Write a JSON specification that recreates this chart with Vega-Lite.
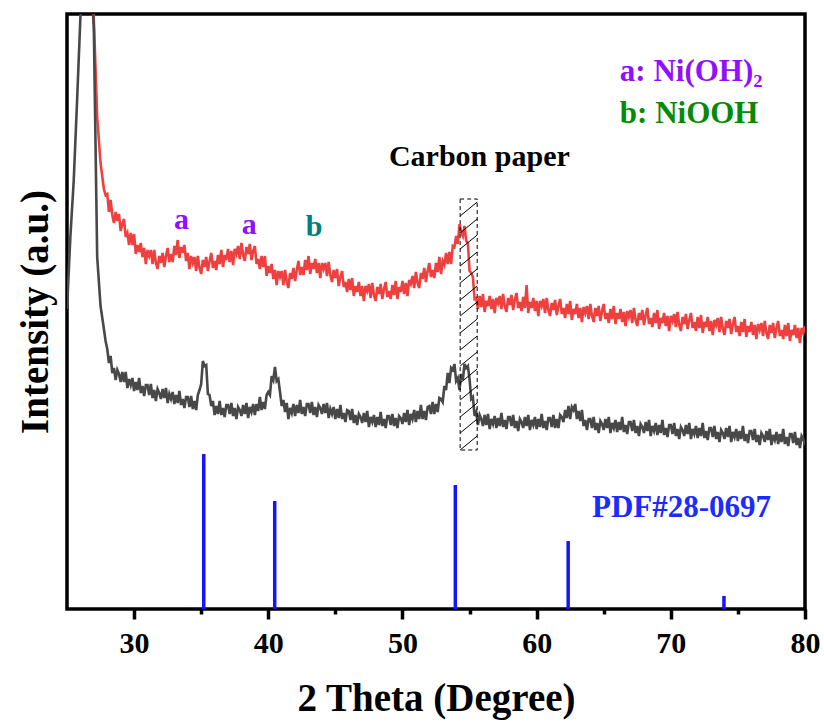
{
  "$schema": "https://vega.github.io/schema/vega-lite/v6.json",
  "autosize": "none",
  "width": 738,
  "height": 595,
  "padding": {"left": 67, "top": 14, "right": 19, "bottom": 118},
  "background": "white",
  "config": {"view": {"stroke": "black", "strokeWidth": 3.5}},
  "datasets": {
    "xrd": [
      {"x":25,"g":300},{"x":25.25,"g":372},{"x":25.5,"g":428},{"x":25.75,"g":508},{"x":26,"g":592},{"x":26.25,"g":662},
      {"x":26.5,"g":684,"r":800},{"x":26.75,"g":648,"r":700},{"x":27,"g":580,"r":590},{"x":27.25,"g":352,"r":492},{"x":27.5,"g":303,"r":446},{"x":27.75,"g":280,"r":420},{"x":27.875,"g":268,"r":414},
      {"x":28,"g":260,"r":415},{"x":28.125,"g":246,"r":397},{"x":28.25,"g":253,"r":409},{"x":28.375,"g":236,"r":394},{"x":28.5,"g":241,"r":386},{"x":28.625,"g":229,"r":397},{"x":28.75,"g":239,"r":388},{"x":28.875,"g":235,"r":395},
      {"x":29,"g":227,"r":378},{"x":29.125,"g":237,"r":385},{"x":29.25,"g":227,"r":390},{"x":29.375,"g":237,"r":372},{"x":29.5,"g":221,"r":376},{"x":29.625,"g":230,"r":364},{"x":29.75,"g":224,"r":376},{"x":29.875,"g":231,"r":364},
      {"x":30,"g":218,"r":375},{"x":30.125,"g":227,"r":355},{"x":30.25,"g":219,"r":364},{"x":30.375,"g":231,"r":357},{"x":30.5,"g":216,"r":366},{"x":30.625,"g":223,"r":352},{"x":30.75,"g":213,"r":361},{"x":30.875,"g":224,"r":345},
      {"x":31,"g":224,"r":359},{"x":31.125,"g":214,"r":353},{"x":31.25,"g":225,"r":359},{"x":31.375,"g":211,"r":345},{"x":31.5,"g":219,"r":359},{"x":31.625,"g":208,"r":346},{"x":31.75,"g":220,"r":340},{"x":31.875,"g":216,"r":353},
      {"x":32,"g":210,"r":346},{"x":32.125,"g":220,"r":356},{"x":32.25,"g":211,"r":342},{"x":32.375,"g":221,"r":353},{"x":32.5,"g":206,"r":361},{"x":32.625,"g":215,"r":347},{"x":32.75,"g":210,"r":355},{"x":32.875,"g":217,"r":347},
      {"x":33,"g":205,"r":363},{"x":33.125,"g":214,"r":354},{"x":33.25,"g":206,"r":369},{"x":33.375,"g":218,"r":351},{"x":33.5,"g":204,"r":362},{"x":33.625,"g":210,"r":356},{"x":33.75,"g":201,"r":364},{"x":33.875,"g":212,"r":348},
      {"x":34,"g":212,"r":356},{"x":34.125,"g":202,"r":340},{"x":34.25,"g":213,"r":353},{"x":34.375,"g":200,"r":346},{"x":34.5,"g":208,"r":352},{"x":34.625,"g":199,"r":338},{"x":34.75,"g":214,"r":353},{"x":34.875,"g":219,"r":341},
      {"x":35,"g":225,"r":335},{"x":35.125,"g":248,"r":349},{"x":35.25,"g":243,"r":342},{"x":35.375,"g":244,"r":352},{"x":35.5,"g":215,"r":338},{"x":35.625,"g":214,"r":348},{"x":35.75,"g":203,"r":356},{"x":35.875,"g":208,"r":341},
      {"x":36,"g":194,"r":348},{"x":36.125,"g":203,"r":339},{"x":36.25,"g":195,"r":354},{"x":36.375,"g":208,"r":345},{"x":36.5,"g":194,"r":359},{"x":36.625,"g":201,"r":342},{"x":36.75,"g":192,"r":354},{"x":36.875,"g":204,"r":349},
      {"x":37,"g":204,"r":360},{"x":37.125,"g":195,"r":347},{"x":37.25,"g":206,"r":358},{"x":37.375,"g":193,"r":344},{"x":37.5,"g":201,"r":360},{"x":37.625,"g":190,"r":355},{"x":37.75,"g":202,"r":363},{"x":37.875,"g":199,"r":350},
      {"x":38,"g":193,"r":366},{"x":38.125,"g":204,"r":354},{"x":38.25,"g":195,"r":348},{"x":38.375,"g":206,"r":362},{"x":38.5,"g":191,"r":355},{"x":38.625,"g":202,"r":365},{"x":38.75,"g":197,"r":349},{"x":38.875,"g":205,"r":358},
      {"x":39,"g":194,"r":363},{"x":39.125,"g":205,"r":345},{"x":39.25,"g":198,"r":350},{"x":39.375,"g":212,"r":340},{"x":39.5,"g":199,"r":353},{"x":39.625,"g":207,"r":342},{"x":39.75,"g":200,"r":353},{"x":39.875,"g":214,"r":333},
      {"x":40,"g":217,"r":343},{"x":40.125,"g":214,"r":336},{"x":40.25,"g":233,"r":345},{"x":40.375,"g":229,"r":330},{"x":40.5,"g":242,"r":339},{"x":40.625,"g":228,"r":324},{"x":40.75,"g":230,"r":338},{"x":40.875,"g":217,"r":332},
      {"x":41,"g":203,"r":338},{"x":41.125,"g":209,"r":324},{"x":41.25,"g":197,"r":339},{"x":41.375,"g":206,"r":327},{"x":41.5,"g":190,"r":321},{"x":41.625,"g":201,"r":336},{"x":41.75,"g":196,"r":330},{"x":41.875,"g":205,"r":341},
      {"x":42,"g":193,"r":328},{"x":42.125,"g":204,"r":339},{"x":42.25,"g":196,"r":348},{"x":42.375,"g":209,"r":334},{"x":42.5,"g":195,"r":342},{"x":42.625,"g":202,"r":334},{"x":42.75,"g":193,"r":349},{"x":42.875,"g":205,"r":339},
      {"x":43,"g":205,"r":353},{"x":43.125,"g":196,"r":335},{"x":43.25,"g":207,"r":346},{"x":43.375,"g":194,"r":340},{"x":43.5,"g":202,"r":350},{"x":43.625,"g":192,"r":336},{"x":43.75,"g":204,"r":346},{"x":43.875,"g":201,"r":331},
      {"x":44,"g":195,"r":346},{"x":44.125,"g":205,"r":340},{"x":44.25,"g":196,"r":346},{"x":44.375,"g":206,"r":333},{"x":44.5,"g":191,"r":347},{"x":44.625,"g":200,"r":334},{"x":44.75,"g":195,"r":327},{"x":44.875,"g":202,"r":339},
      {"x":45,"g":190,"r":331},{"x":45.125,"g":200,"r":340},{"x":45.25,"g":191,"r":323},{"x":45.375,"g":204,"r":332},{"x":45.5,"g":190,"r":338},{"x":45.625,"g":196,"r":322},{"x":45.75,"g":187,"r":327},{"x":45.875,"g":199,"r":317},
      {"x":46,"g":198,"r":330},{"x":46.125,"g":189,"r":319},{"x":46.25,"g":200,"r":331},{"x":46.375,"g":186,"r":313},{"x":46.5,"g":194,"r":323},{"x":46.625,"g":184,"r":317},{"x":46.75,"g":195,"r":327},{"x":46.875,"g":192,"r":313},
      {"x":47,"g":186,"r":323},{"x":47.125,"g":196,"r":308},{"x":47.25,"g":187,"r":323},{"x":47.375,"g":198,"r":318},{"x":47.5,"g":182,"r":325},{"x":47.625,"g":192,"r":311},{"x":47.75,"g":187,"r":326},{"x":47.875,"g":194,"r":314},
      {"x":48,"g":182,"r":308},{"x":48.125,"g":192,"r":322},{"x":48.25,"g":184,"r":315},{"x":48.375,"g":197,"r":325},{"x":48.5,"g":183,"r":310},{"x":48.625,"g":190,"r":320},{"x":48.75,"g":181,"r":327},{"x":48.875,"g":193,"r":312},
      {"x":49,"g":193,"r":318},{"x":49.125,"g":184,"r":310},{"x":49.25,"g":195,"r":324},{"x":49.375,"g":183,"r":314},{"x":49.5,"g":191,"r":328},{"x":49.625,"g":181,"r":310},{"x":49.75,"g":193,"r":322},{"x":49.875,"g":191,"r":317},
      {"x":50,"g":185,"r":328},{"x":50.125,"g":196,"r":315},{"x":50.25,"g":187,"r":326},{"x":50.375,"g":199,"r":313},{"x":50.5,"g":184,"r":329},{"x":50.625,"g":195,"r":325},{"x":50.75,"g":190,"r":333},{"x":50.875,"g":199,"r":321},
      {"x":51,"g":187,"r":337},{"x":51.125,"g":198,"r":326},{"x":51.25,"g":190,"r":321},{"x":51.375,"g":204,"r":336},{"x":51.5,"g":190,"r":330},{"x":51.625,"g":198,"r":341},{"x":51.75,"g":189,"r":327},{"x":51.875,"g":202,"r":338},
      {"x":52,"g":203,"r":346},{"x":52.125,"g":195,"r":332},{"x":52.25,"g":207,"r":339},{"x":52.375,"g":195,"r":331},{"x":52.5,"g":205,"r":346},{"x":52.625,"g":197,"r":337},{"x":52.75,"g":211,"r":352},{"x":52.875,"g":210,"r":335},
      {"x":53,"g":207,"r":348},{"x":53.125,"g":223,"r":344},{"x":53.25,"g":219,"r":356},{"x":53.375,"g":236,"r":345},{"x":53.5,"g":226,"r":357},{"x":53.625,"g":241,"r":345},{"x":53.75,"g":239,"r":363},{"x":53.875,"g":245,"r":362},
      {"x":54,"g":228,"r":373},{"x":54.125,"g":231,"r":365},{"x":54.25,"g":219,"r":385},{"x":54.375,"g":235,"r":377},{"x":54.5,"g":229,"r":373},{"x":54.625,"g":245,"r":383},{"x":54.75,"g":241,"r":368},{"x":54.875,"g":243,"r":366},
      {"x":55,"g":230,"r":338},{"x":55.125,"g":210,"r":336},{"x":55.25,"g":212,"r":332},{"x":55.375,"g":193,"r":310},{"x":55.5,"g":197,"r":311},{"x":55.625,"g":184,"r":300},{"x":55.75,"g":194,"r":313},{"x":55.875,"g":190,"r":302},
      {"x":56,"g":183,"r":315},{"x":56.125,"g":194,"r":297},{"x":56.25,"g":184,"r":308},{"x":56.375,"g":195,"r":303},{"x":56.5,"g":180,"r":313},{"x":56.625,"g":190,"r":300},{"x":56.75,"g":185,"r":310},{"x":56.875,"g":193,"r":296},
      {"x":57,"g":181,"r":311},{"x":57.125,"g":191,"r":306},{"x":57.25,"g":183,"r":313},{"x":57.375,"g":196,"r":300},{"x":57.5,"g":182,"r":315},{"x":57.625,"g":189,"r":303},{"x":57.75,"g":180,"r":297},{"x":57.875,"g":192,"r":311},
      {"x":58,"g":192,"r":304},{"x":58.125,"g":183,"r":314},{"x":58.25,"g":194,"r":299},{"x":58.375,"g":181,"r":309},{"x":58.5,"g":188,"r":316},{"x":58.625,"g":178,"r":301},{"x":58.75,"g":190,"r":307},{"x":58.875,"g":187,"r":298},
      {"x":59,"g":181,"r":312},{"x":59.125,"g":192,"r":301},{"x":59.25,"g":183,"r":324},{"x":59.375,"g":194,"r":296},{"x":59.5,"g":179,"r":307},{"x":59.625,"g":189,"r":301},{"x":59.75,"g":184,"r":311},{"x":59.875,"g":192,"r":298},
      {"x":60,"g":180,"r":308},{"x":60.125,"g":190,"r":293},{"x":60.25,"g":182,"r":308},{"x":60.375,"g":195,"r":303},{"x":60.5,"g":181,"r":310},{"x":60.625,"g":188,"r":296},{"x":60.75,"g":179,"r":311},{"x":60.875,"g":191,"r":299},
      {"x":61,"g":191,"r":293},{"x":61.125,"g":182,"r":306},{"x":61.25,"g":194,"r":299},{"x":61.375,"g":181,"r":309},{"x":61.5,"g":190,"r":294},{"x":61.625,"g":181,"r":303},{"x":61.75,"g":194,"r":310},{"x":61.875,"g":192,"r":295},
      {"x":62,"g":187,"r":301},{"x":62.125,"g":199,"r":291},{"x":62.25,"g":191,"r":305},{"x":62.375,"g":203,"r":295},{"x":62.5,"g":190,"r":308},{"x":62.625,"g":202,"r":289},{"x":62.75,"g":199,"r":300},{"x":62.875,"g":205,"r":295},
      {"x":63,"g":190,"r":305},{"x":63.125,"g":198,"r":291},{"x":63.25,"g":188,"r":301},{"x":63.375,"g":199,"r":287},{"x":63.5,"g":183,"r":302},{"x":63.625,"g":189,"r":296},{"x":63.75,"g":179,"r":303},{"x":63.875,"g":190,"r":290},
      {"x":64,"g":190,"r":305},{"x":64.125,"g":181,"r":293},{"x":64.25,"g":192,"r":287},{"x":64.375,"g":179,"r":301},{"x":64.5,"g":186,"r":293},{"x":64.625,"g":176,"r":303},{"x":64.75,"g":188,"r":288},{"x":64.875,"g":185,"r":298},
      {"x":65,"g":179,"r":305},{"x":65.125,"g":190,"r":290},{"x":65.25,"g":181,"r":296},{"x":65.375,"g":192,"r":286},{"x":65.5,"g":176,"r":300},{"x":65.625,"g":186,"r":290},{"x":65.75,"g":181,"r":303},{"x":65.875,"g":189,"r":285},
      {"x":66,"g":177,"r":296},{"x":66.125,"g":187,"r":290},{"x":66.25,"g":179,"r":300},{"x":66.375,"g":192,"r":287},{"x":66.5,"g":177,"r":297},{"x":66.625,"g":184,"r":283},{"x":66.75,"g":175,"r":298},{"x":66.875,"g":187,"r":292},
      {"x":67,"g":187,"r":299},{"x":67.125,"g":178,"r":286},{"x":67.25,"g":189,"r":301},{"x":67.375,"g":176,"r":289},{"x":67.5,"g":183,"r":283},{"x":67.625,"g":173,"r":296},{"x":67.75,"g":185,"r":289},{"x":67.875,"g":182,"r":299},
      {"x":68,"g":176,"r":284},{"x":68.125,"g":187,"r":294},{"x":68.25,"g":178,"r":301},{"x":68.375,"g":189,"r":285},{"x":68.5,"g":173,"r":291},{"x":68.625,"g":183,"r":282},{"x":68.75,"g":178,"r":296},{"x":68.875,"g":186,"r":286},
      {"x":69,"g":174,"r":299},{"x":69.125,"g":184,"r":280},{"x":69.25,"g":176,"r":291},{"x":69.375,"g":189,"r":286},{"x":69.5,"g":174,"r":296},{"x":69.625,"g":181,"r":283},{"x":69.75,"g":172,"r":293},{"x":69.875,"g":184,"r":278},
      {"x":70,"g":184,"r":293},{"x":70.125,"g":175,"r":288},{"x":70.25,"g":186,"r":295},{"x":70.375,"g":173,"r":282},{"x":70.5,"g":180,"r":297},{"x":70.625,"g":170,"r":284},{"x":70.75,"g":182,"r":278},{"x":70.875,"g":179,"r":292},
      {"x":71,"g":173,"r":285},{"x":71.125,"g":184,"r":295},{"x":71.25,"g":175,"r":280},{"x":71.375,"g":186,"r":289},{"x":71.5,"g":170,"r":296},{"x":71.625,"g":180,"r":281},{"x":71.75,"g":175,"r":287},{"x":71.875,"g":183,"r":278},
      {"x":72,"g":171,"r":292},{"x":72.125,"g":181,"r":281},{"x":72.25,"g":173,"r":294},{"x":72.375,"g":186,"r":276},{"x":72.5,"g":171,"r":287},{"x":72.625,"g":178,"r":282},{"x":72.75,"g":169,"r":292},{"x":72.875,"g":181,"r":278},
      {"x":73,"g":181,"r":288},{"x":73.125,"g":172,"r":274},{"x":73.25,"g":183,"r":289},{"x":73.375,"g":170,"r":284},{"x":73.5,"g":177,"r":291},{"x":73.625,"g":167,"r":277},{"x":73.75,"g":179,"r":292},{"x":73.875,"g":176,"r":280},
      {"x":74,"g":170,"r":274},{"x":74.125,"g":181,"r":288},{"x":74.25,"g":172,"r":281},{"x":74.375,"g":183,"r":290},{"x":74.5,"g":167,"r":275},{"x":74.625,"g":177,"r":285},{"x":74.75,"g":172,"r":292},{"x":74.875,"g":180,"r":277},
      {"x":75,"g":168,"r":283},{"x":75.125,"g":178,"r":273},{"x":75.25,"g":170,"r":287},{"x":75.375,"g":183,"r":277},{"x":75.5,"g":168,"r":290},{"x":75.625,"g":175,"r":272},{"x":75.75,"g":166,"r":283},{"x":75.875,"g":178,"r":277},
      {"x":76,"g":178,"r":287},{"x":76.125,"g":169,"r":274},{"x":76.25,"g":180,"r":284},{"x":76.375,"g":167,"r":270},{"x":76.5,"g":174,"r":285},{"x":76.625,"g":164,"r":279},{"x":76.75,"g":176,"r":286},{"x":76.875,"g":173,"r":273},
      {"x":77,"g":167,"r":288},{"x":77.125,"g":178,"r":276},{"x":77.25,"g":169,"r":270},{"x":77.375,"g":180,"r":284},{"x":77.5,"g":164,"r":276},{"x":77.625,"g":174,"r":286},{"x":77.75,"g":169,"r":271},{"x":77.875,"g":177,"r":281},
      {"x":78,"g":165,"r":288},{"x":78.125,"g":175,"r":273},{"x":78.25,"g":167,"r":279},{"x":78.375,"g":180,"r":270},{"x":78.5,"g":165,"r":284},{"x":78.625,"g":172,"r":273},{"x":78.75,"g":163,"r":286},{"x":78.875,"g":175,"r":268},
      {"x":79,"g":175,"r":279},{"x":79.125,"g":166,"r":274},{"x":79.25,"g":177,"r":284},{"x":79.375,"g":164,"r":271},{"x":79.5,"g":171,"r":281},{"x":79.625,"g":161,"r":266},{"x":79.75,"g":173,"r":281},{"x":79.875,"g":170,"r":276},
      {"x":80,"g":164,"r":283}
    ],
    "pdf": [
      {"x":35.19,"h":155},{"x":40.48,"h":108},{"x":53.94,"h":124},{"x":62.35,"h":68},{"x":73.96,"h":13}
    ],
    "hatch": [
      {"x1":54.3,"y1":393,"x2":55.57,"y2":407},{"x1":54.3,"y1":376,"x2":55.57,"y2":390},
      {"x1":54.3,"y1":360,"x2":55.57,"y2":374},{"x1":54.3,"y1":343,"x2":55.57,"y2":357},
      {"x1":54.3,"y1":326,"x2":55.57,"y2":340},{"x1":54.3,"y1":309,"x2":55.57,"y2":323},
      {"x1":54.3,"y1":293,"x2":55.57,"y2":307},{"x1":54.3,"y1":276,"x2":55.57,"y2":290},
      {"x1":54.3,"y1":259,"x2":55.57,"y2":273},{"x1":54.3,"y1":243,"x2":55.57,"y2":257},
      {"x1":54.3,"y1":226,"x2":55.57,"y2":240},{"x1":54.3,"y1":209,"x2":55.57,"y2":223},
      {"x1":54.3,"y1":192,"x2":55.57,"y2":206},{"x1":54.3,"y1":176,"x2":55.57,"y2":190},
      {"x1":54.3,"y1":159,"x2":55.57,"y2":173}
    ],
    "one": [{}]
  },
  "encoding": {
    "x": {
      "type": "quantitative",
      "scale": {"domain": [25, 80], "nice": false, "zero": false},
      "axis": {
        "values": [30, 35, 40, 45, 50, 55, 60, 65, 70, 75, 80],
        "labelExpr": "datum.value % 10 === 0 ? datum.label : ''",
        "tickSize": {"condition": {"test": "datum.value % 10 !== 0", "value": 5}, "value": 10},
        "tickWidth": 3.5,
        "tickColor": "black",
        "domain": false,
        "grid": false,
        "labelFlush": false,
        "labelOverlap": false,
        "labelFont": "Liberation Serif",
        "labelFontWeight": "bold",
        "labelFontSize": 30,
        "labelColor": "black",
        "labelPadding": 9,
        "title": "2 Theta (Degree)",
        "titleFont": "Liberation Serif",
        "titleFontWeight": "bold",
        "titleFontSize": 39,
        "titleColor": "black",
        "titlePadding": 21
      }
    },
    "y": {
      "type": "quantitative",
      "scale": {"domain": [0, 595], "nice": false, "zero": false},
      "axis": {
        "labels": false,
        "ticks": false,
        "domain": false,
        "grid": false,
        "title": "Intensity (a.u.)",
        "titleFont": "Liberation Serif",
        "titleFontWeight": "bold",
        "titleFontSize": 39,
        "titleColor": "black",
        "titlePadding": 12
      }
    }
  },
  "layer": [
    {
      "data": {"name": "pdf"},
      "mark": {"type": "rule", "color": "#1414ff", "strokeWidth": 3.5},
      "encoding": {"x": {"field": "x"}, "y": {"field": "h"}, "y2": {"datum": 0}}
    },
    {
      "data": {"name": "xrd"},
      "mark": {"type": "line", "color": "#ef4040", "strokeWidth": 2.6, "clip": true},
      "encoding": {"x": {"field": "x"}, "y": {"field": "r"}}
    },
    {
      "data": {"name": "xrd"},
      "mark": {"type": "line", "color": "#484848", "strokeWidth": 2.6, "clip": true},
      "encoding": {"x": {"field": "x"}, "y": {"field": "g"}}
    },
    {
      "data": {"name": "one"},
      "mark": {"type": "rect", "fillOpacity": 0, "fill": "white", "stroke": "black", "strokeWidth": 1, "strokeDash": [4, 3]},
      "encoding": {"x": {"datum": 54.3}, "x2": {"datum": 55.57}, "y": {"datum": 159}, "y2": {"datum": 410}}
    },
    {
      "data": {"name": "hatch"},
      "mark": {"type": "rule", "color": "black", "strokeWidth": 1},
      "encoding": {"x": {"field": "x1"}, "y": {"field": "y1"}, "x2": {"field": "x2"}, "y2": {"field": "y2"}}
    },
    {
      "data": {"name": "one"},
      "mark": {"type": "text", "font": "Liberation Serif", "fontWeight": "bold", "fontSize": 30, "color": "#9010ff", "baseline": "middle"},
      "encoding": {"x": {"datum": 33.54}, "y": {"datum": 389}, "text": {"value": "a"}}
    },
    {
      "data": {"name": "one"},
      "mark": {"type": "text", "font": "Liberation Serif", "fontWeight": "bold", "fontSize": 30, "color": "#9010ff", "baseline": "middle"},
      "encoding": {"x": {"datum": 38.59}, "y": {"datum": 384}, "text": {"value": "a"}}
    },
    {
      "data": {"name": "one"},
      "mark": {"type": "text", "font": "Liberation Serif", "fontWeight": "bold", "fontSize": 30, "color": "#007f7f", "baseline": "middle"},
      "encoding": {"x": {"datum": 43.41}, "y": {"datum": 382}, "text": {"value": "b"}}
    },
    {
      "data": {"name": "one"},
      "mark": {"type": "text", "font": "Liberation Serif", "fontWeight": "bold", "fontSize": 30, "color": "black", "baseline": "middle"},
      "encoding": {"x": {"datum": 55.73}, "y": {"datum": 452}, "text": {"value": "Carbon paper"}}
    },
    {
      "data": {"name": "one"},
      "mark": {"type": "text", "font": "Liberation Serif", "fontWeight": "bold", "fontSize": 31, "color": "#9010ff", "baseline": "middle", "align": "left"},
      "encoding": {"x": {"datum": 66.2}, "y": {"datum": 537}, "text": {"value": "a: Ni(OH)₂"}}
    },
    {
      "data": {"name": "one"},
      "mark": {"type": "text", "font": "Liberation Serif", "fontWeight": "bold", "fontSize": 31, "color": "#058a05", "baseline": "middle", "align": "left"},
      "encoding": {"x": {"datum": 66.2}, "y": {"datum": 495}, "text": {"value": "b: NiOOH"}}
    },
    {
      "data": {"name": "one"},
      "mark": {"type": "text", "font": "Liberation Serif", "fontWeight": "bold", "fontSize": 31, "color": "#1a2cff", "baseline": "middle"},
      "encoding": {"x": {"datum": 70.8}, "y": {"datum": 101}, "text": {"value": "PDF#28-0697"}}
    }
  ]
}
